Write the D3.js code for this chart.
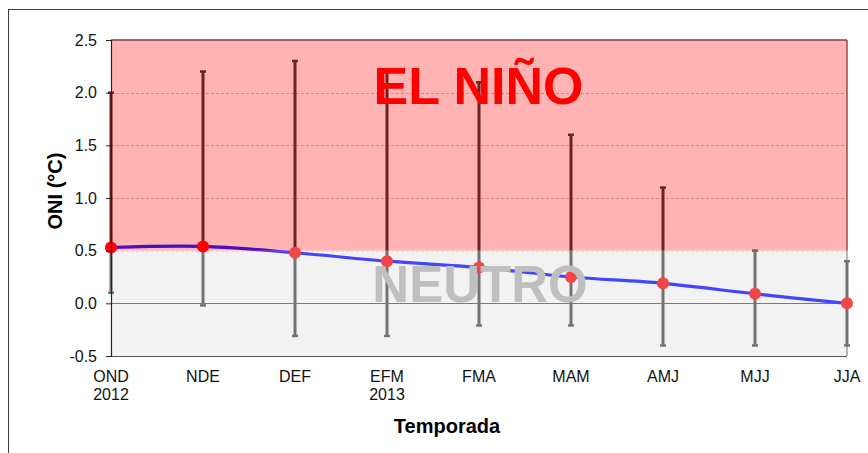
<!DOCTYPE html>
<html><head><meta charset="utf-8">
<script src="https://cdn.jsdelivr.net/npm/d3@7"></script>
<style>html,body{margin:0;padding:0;background:#fff;}svg{display:block;font-family:"Liberation Sans",Arial,sans-serif;}</style>
</head><body>
<svg id="c" width="868" height="453"></svg>
<script>
const categories = ["OND","NDE","DEF","EFM","FMA","MAM","AMJ","MJJ","JJA"];
const yearLabels = ["2012","","","2013","","","","",""];
const oni   = [0.53,0.54,0.48,0.40,0.34,0.25,0.19,0.09,0.00];
const upper = [2.0,2.2,2.3,2.2,2.1,1.6,1.1,0.5,0.4];
const lower = [0.1,-0.02,-0.31,-0.31,-0.21,-0.21,-0.4,-0.4,-0.4];
const yTicks = [-0.5,0.0,0.5,1.0,1.5,2.0,2.5];
const ninoThreshold = 0.5;

const data = categories.map((c,i)=>({c, y:yearLabels[i], v:oni[i], hi:upper[i], lo:lower[i]}));

const svg = d3.select("#c");
const L=111, R=847, T=40, B=356;
const x = d3.scalePoint().domain(categories).range([L,R]);
const y = d3.scaleLinear().domain([-0.5,2.5]).range([B,T]);

// outer frame
svg.append("rect").attr("x",8.5).attr("y",9.5).attr("width",900).attr("height",500)
  .attr("fill","#fff").attr("stroke","#3a3a3a").attr("stroke-width",1);

const defs = svg.append("defs");
defs.append("clipPath").attr("id","clipTop").append("rect")
  .attr("x",0).attr("y",0).attr("width",868).attr("height",y(ninoThreshold));
defs.append("clipPath").attr("id","clipBot").append("rect")
  .attr("x",0).attr("y",y(ninoThreshold)).attr("width",868).attr("height",453);

// regions
svg.append("rect").attr("x",L).attr("y",y(ninoThreshold)).attr("width",R-L).attr("height",y(-0.5)-y(ninoThreshold)).attr("fill","#f2f2f2");
svg.append("rect").attr("x",L).attr("y",y(2.5)).attr("width",R-L).attr("height",y(ninoThreshold)-y(2.5)).attr("fill","#ffb3b3");

// gridlines
yTicks.filter(t=>t>ninoThreshold && t<2.5).forEach(t=>{
  svg.append("line").attr("x1",L).attr("x2",R).attr("y1",Math.round(y(t))+0.5).attr("y2",Math.round(y(t))+0.5)
    .attr("stroke","#c98c8c").attr("stroke-dasharray","3,2");
});
svg.append("line").attr("x1",L).attr("x2",R).attr("y1",Math.round(y(ninoThreshold))+0.5).attr("y2",Math.round(y(ninoThreshold))+0.5)
  .attr("stroke","#dcdcdc").attr("stroke-dasharray","3,2");
svg.append("line").attr("x1",L).attr("x2",R).attr("y1",Math.round(y(0))+0.5).attr("y2",Math.round(y(0))+0.5)
  .attr("stroke","#7a7a7a").attr("stroke-width",1.2);

// borders
svg.append("line").attr("x1",L).attr("x2",R).attr("y1",y(2.5)).attr("y2",y(2.5)).attr("stroke","#8a3a3a").attr("stroke-width",1.5);
svg.append("line").attr("x1",R).attr("x2",R).attr("y1",y(2.5)).attr("y2",y(ninoThreshold)).attr("stroke","#9a4a4a").attr("stroke-width",1.5);
svg.append("line").attr("x1",R).attr("x2",R).attr("y1",y(ninoThreshold)).attr("y2",y(-0.5)).attr("stroke","#8a8a8a").attr("stroke-width",1.2);
svg.append("line").attr("x1",L).attr("x2",R).attr("y1",y(-0.5)+0.5).attr("y2",y(-0.5)+0.5).attr("stroke","#555").attr("stroke-width",1.2);

// error bars (drawn twice with clips for colours)
function bars(clip,color){
  const g = svg.append("g").attr("clip-path",`url(#${clip})`);
  g.selectAll("line.b").data(data).join("line").attr("class","b")
    .attr("x1",d=>x(d.c)).attr("x2",d=>x(d.c)).attr("y1",d=>y(d.hi)).attr("y2",d=>y(d.lo))
    .attr("stroke",color).attr("stroke-width",3);
  g.selectAll("line.h").data(data).join("line").attr("class","h")
    .attr("x1",d=>x(d.c)-3).attr("x2",d=>x(d.c)+3).attr("y1",d=>y(d.hi)).attr("y2",d=>y(d.hi))
    .attr("stroke",color).attr("stroke-width",2.5);
  g.selectAll("line.l").data(data).join("line").attr("class","l")
    .attr("x1",d=>x(d.c)-3).attr("x2",d=>x(d.c)+3).attr("y1",d=>y(d.lo)).attr("y2",d=>y(d.lo))
    .attr("stroke",color).attr("stroke-width",2.5);
}
bars("clipTop","#6b2323");
bars("clipBot","#737373");

// line
const lineGen = d3.line().x(d=>x(d.c)).y(d=>y(d.v)).curve(d3.curveCatmullRom.alpha(0.5));
svg.append("path").datum(data).attr("d",lineGen).attr("fill","none").attr("stroke","#4444ff").attr("stroke-width",3.2).attr("clip-path","url(#clipBot)");
svg.append("path").datum(data).attr("d",lineGen).attr("fill","none").attr("stroke","#4a0cc4").attr("stroke-width",3.2).attr("clip-path","url(#clipTop)");

// dots
svg.selectAll("circle.pt").data(data).join("circle").attr("class","pt")
  .attr("cx",d=>x(d.c)).attr("cy",d=>y(d.v)).attr("r",6)
  .attr("fill",d=>d.v>ninoThreshold?"#ff0000":"#f24646");

// region labels
svg.append("text").attr("x",480).attr("y",302).attr("text-anchor","middle")
  .attr("font-size",51).attr("font-weight","bold").attr("fill","#bfbfbf").text("NEUTRO");
svg.append("text").attr("x",478.5).attr("y",104).attr("text-anchor","middle")
  .attr("font-size",52).attr("font-weight","bold").attr("fill","#ff0000").text("EL NIÑO");

// y axis
const yAxis = d3.axisLeft(y).tickValues(yTicks).tickFormat(d3.format(".1f")).tickSize(5).tickPadding(9);
const ga = svg.append("g").attr("transform",`translate(${L},0)`).call(yAxis);
ga.select(".domain").attr("stroke","#222").attr("stroke-width",1.2);
ga.selectAll(".tick line").attr("stroke","#222");
ga.selectAll(".tick text").attr("font-size",16).attr("fill","#111").attr("font-family","Liberation Sans, Arial, sans-serif")
  .text(d=>d<0?"-"+Math.abs(d).toFixed(1):d.toFixed(1));

// x labels
const xa = svg.append("g");
xa.selectAll("text.c").data(data).join("text").attr("class","c")
  .attr("x",d=>x(d.c)).attr("y",382).attr("text-anchor","middle").attr("font-size",16).attr("fill","#111").text(d=>d.c);
xa.selectAll("text.yr").data(data.filter(d=>d.y)).join("text").attr("class","yr")
  .attr("x",d=>x(d.c)).attr("y",400).attr("text-anchor","middle").attr("font-size",16).attr("fill","#111").text(d=>d.y);

// titles
svg.append("text").attr("x",447).attr("y",433).attr("text-anchor","middle")
  .attr("font-size",20).attr("font-weight","bold").attr("fill","#000").text("Temporada");
svg.append("text").attr("transform","translate(62,191) rotate(-90)").attr("text-anchor","middle")
  .attr("font-size",20).attr("font-weight","bold").attr("fill","#000").text("ONI (°C)");
</script>
</body></html>
